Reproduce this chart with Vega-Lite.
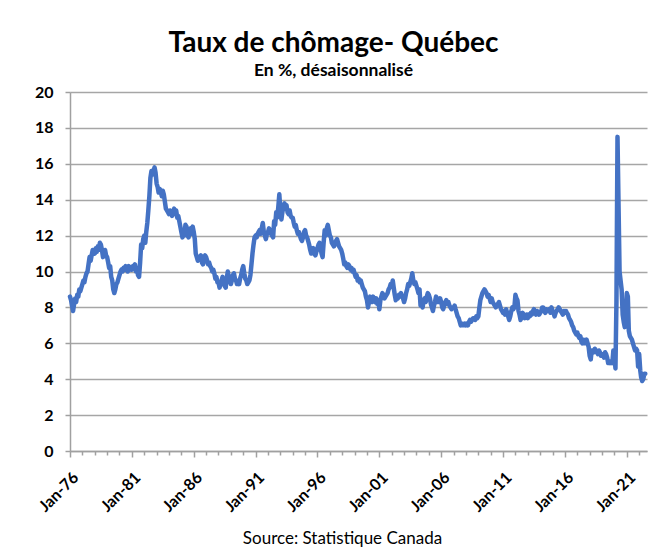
{
"$schema": "https://vega.github.io/schema/vega-lite/v6.json",
"autosize": {"type": "none"},
"padding": {"left": 70, "top": 92, "right": 17, "bottom": 97},
"width": 577,
"height": 359,
"background": "white",
"config": {"view": {"stroke": null}, "font": "Lato"},
"title": {"text": "Taux de chômage- Québec", "subtitle": "En %, désaisonnalisé", "font": "Lato", "fontSize": 28, "fontWeight": "bold", "color": "black", "subtitleFont": "Lato", "subtitleFontSize": 17.5, "subtitleFontWeight": "bold", "subtitleColor": "black", "subtitlePadding": 4, "anchor": "middle", "dx": -25, "offset": 5},
"data": {"format": {"parse": {"d": "date:'%Y-%m'"}}, "values": [
{"d":"1976-01","v":8.6},{"d":"1976-02","v":8.4},{"d":"1976-03","v":8.1},{"d":"1976-04","v":7.8},{"d":"1976-05","v":8.2},{"d":"1976-06","v":8.5},{"d":"1976-07","v":8.3},{"d":"1976-08","v":8.7},{"d":"1976-09","v":8.6},{"d":"1976-10","v":9.0},{"d":"1976-11","v":8.9},{"d":"1976-12","v":9.1},
{"d":"1977-01","v":9.3},{"d":"1977-02","v":9.5},{"d":"1977-03","v":9.4},{"d":"1977-04","v":9.7},{"d":"1977-05","v":9.9},{"d":"1977-06","v":10.0},{"d":"1977-07","v":10.4},{"d":"1977-08","v":10.8},{"d":"1977-09","v":10.6},{"d":"1977-10","v":10.9},{"d":"1977-11","v":11.2},{"d":"1977-12","v":11.1},
{"d":"1978-01","v":11.0},{"d":"1978-02","v":11.3},{"d":"1978-03","v":11.1},{"d":"1978-04","v":11.4},{"d":"1978-05","v":11.2},{"d":"1978-06","v":11.6},{"d":"1978-07","v":11.5},{"d":"1978-08","v":11.2},{"d":"1978-09","v":10.8},{"d":"1978-10","v":11.0},{"d":"1978-11","v":11.2},{"d":"1978-12","v":10.9},
{"d":"1979-01","v":10.8},{"d":"1979-02","v":10.5},{"d":"1979-03","v":10.2},{"d":"1979-04","v":10.3},{"d":"1979-05","v":9.7},{"d":"1979-06","v":9.5},{"d":"1979-07","v":9.0},{"d":"1979-08","v":8.8},{"d":"1979-09","v":9.0},{"d":"1979-10","v":9.3},{"d":"1979-11","v":9.4},{"d":"1979-12","v":9.6},
{"d":"1980-01","v":9.8},{"d":"1980-02","v":10.0},{"d":"1980-03","v":10.1},{"d":"1980-04","v":10.0},{"d":"1980-05","v":10.2},{"d":"1980-06","v":10.1},{"d":"1980-07","v":10.3},{"d":"1980-08","v":10.2},{"d":"1980-09","v":10.0},{"d":"1980-10","v":10.3},{"d":"1980-11","v":10.2},{"d":"1980-12","v":10.1},
{"d":"1981-01","v":10.1},{"d":"1981-02","v":10.3},{"d":"1981-03","v":10.2},{"d":"1981-04","v":10.4},{"d":"1981-05","v":10.0},{"d":"1981-06","v":10.2},{"d":"1981-07","v":9.8},{"d":"1981-08","v":9.7},{"d":"1981-09","v":10.5},{"d":"1981-10","v":11.5},{"d":"1981-11","v":11.3},{"d":"1981-12","v":11.8},
{"d":"1982-01","v":12.0},{"d":"1982-02","v":11.6},{"d":"1982-03","v":12.2},{"d":"1982-04","v":12.7},{"d":"1982-05","v":13.4},{"d":"1982-06","v":14.2},{"d":"1982-07","v":15.2},{"d":"1982-08","v":15.6},{"d":"1982-09","v":15.4},{"d":"1982-10","v":15.6},{"d":"1982-11","v":15.8},{"d":"1982-12","v":15.5},
{"d":"1983-01","v":14.9},{"d":"1983-02","v":14.7},{"d":"1983-03","v":14.4},{"d":"1983-04","v":14.6},{"d":"1983-05","v":14.5},{"d":"1983-06","v":14.2},{"d":"1983-07","v":14.5},{"d":"1983-08","v":14.3},{"d":"1983-09","v":13.9},{"d":"1983-10","v":13.5},{"d":"1983-11","v":13.4},{"d":"1983-12","v":13.3},
{"d":"1984-01","v":13.2},{"d":"1984-02","v":13.4},{"d":"1984-03","v":13.3},{"d":"1984-04","v":13.1},{"d":"1984-05","v":13.3},{"d":"1984-06","v":13.5},{"d":"1984-07","v":13.2},{"d":"1984-08","v":13.4},{"d":"1984-09","v":13.0},{"d":"1984-10","v":13.1},{"d":"1984-11","v":12.8},{"d":"1984-12","v":12.5},
{"d":"1985-01","v":12.2},{"d":"1985-02","v":11.9},{"d":"1985-03","v":12.3},{"d":"1985-04","v":12.0},{"d":"1985-05","v":12.6},{"d":"1985-06","v":12.5},{"d":"1985-07","v":12.0},{"d":"1985-08","v":11.9},{"d":"1985-09","v":12.2},{"d":"1985-10","v":12.4},{"d":"1985-11","v":12.1},{"d":"1985-12","v":12.5},
{"d":"1986-01","v":12.2},{"d":"1986-02","v":11.8},{"d":"1986-03","v":11.0},{"d":"1986-04","v":10.8},{"d":"1986-05","v":10.6},{"d":"1986-06","v":10.8},{"d":"1986-07","v":10.7},{"d":"1986-08","v":10.9},{"d":"1986-09","v":10.5},{"d":"1986-10","v":10.4},{"d":"1986-11","v":10.7},{"d":"1986-12","v":10.9},
{"d":"1987-01","v":10.8},{"d":"1987-02","v":10.6},{"d":"1987-03","v":10.4},{"d":"1987-04","v":10.5},{"d":"1987-05","v":10.3},{"d":"1987-06","v":10.2},{"d":"1987-07","v":10.0},{"d":"1987-08","v":10.1},{"d":"1987-09","v":9.9},{"d":"1987-10","v":9.6},{"d":"1987-11","v":9.7},{"d":"1987-12","v":9.4},
{"d":"1988-01","v":9.4},{"d":"1988-02","v":9.1},{"d":"1988-03","v":9.3},{"d":"1988-04","v":9.5},{"d":"1988-05","v":9.7},{"d":"1988-06","v":9.4},{"d":"1988-07","v":9.2},{"d":"1988-08","v":9.1},{"d":"1988-09","v":9.6},{"d":"1988-10","v":10.0},{"d":"1988-11","v":9.7},{"d":"1988-12","v":9.5},
{"d":"1989-01","v":9.3},{"d":"1989-02","v":9.5},{"d":"1989-03","v":9.8},{"d":"1989-04","v":9.9},{"d":"1989-05","v":9.6},{"d":"1989-06","v":9.5},{"d":"1989-07","v":9.3},{"d":"1989-08","v":9.4},{"d":"1989-09","v":9.3},{"d":"1989-10","v":9.6},{"d":"1989-11","v":9.8},{"d":"1989-12","v":10.1},
{"d":"1990-01","v":10.3},{"d":"1990-02","v":9.9},{"d":"1990-03","v":9.6},{"d":"1990-04","v":9.5},{"d":"1990-05","v":9.3},{"d":"1990-06","v":9.4},{"d":"1990-07","v":9.5},{"d":"1990-08","v":9.8},{"d":"1990-09","v":10.4},{"d":"1990-10","v":11.0},{"d":"1990-11","v":11.5},{"d":"1990-12","v":11.9},
{"d":"1991-01","v":12.0},{"d":"1991-02","v":11.9},{"d":"1991-03","v":12.1},{"d":"1991-04","v":12.2},{"d":"1991-05","v":12.3},{"d":"1991-06","v":12.1},{"d":"1991-07","v":12.4},{"d":"1991-08","v":12.7},{"d":"1991-09","v":12.2},{"d":"1991-10","v":12.0},{"d":"1991-11","v":11.8},{"d":"1991-12","v":12.1},
{"d":"1992-01","v":12.2},{"d":"1992-02","v":12.4},{"d":"1992-03","v":12.3},{"d":"1992-04","v":12.1},{"d":"1992-05","v":12.0},{"d":"1992-06","v":11.9},{"d":"1992-07","v":12.8},{"d":"1992-08","v":12.6},{"d":"1992-09","v":13.3},{"d":"1992-10","v":13.0},{"d":"1992-11","v":13.6},{"d":"1992-12","v":14.3},
{"d":"1993-01","v":13.4},{"d":"1993-02","v":12.9},{"d":"1993-03","v":13.3},{"d":"1993-04","v":13.6},{"d":"1993-05","v":13.8},{"d":"1993-06","v":13.5},{"d":"1993-07","v":13.7},{"d":"1993-08","v":13.3},{"d":"1993-09","v":13.2},{"d":"1993-10","v":13.4},{"d":"1993-11","v":13.1},{"d":"1993-12","v":13.0},
{"d":"1994-01","v":13.0},{"d":"1994-02","v":12.7},{"d":"1994-03","v":12.5},{"d":"1994-04","v":12.6},{"d":"1994-05","v":12.3},{"d":"1994-06","v":12.1},{"d":"1994-07","v":12.2},{"d":"1994-08","v":12.0},{"d":"1994-09","v":11.8},{"d":"1994-10","v":11.7},{"d":"1994-11","v":11.9},{"d":"1994-12","v":12.2},
{"d":"1995-01","v":12.3},{"d":"1995-02","v":12.0},{"d":"1995-03","v":11.9},{"d":"1995-04","v":11.7},{"d":"1995-05","v":11.5},{"d":"1995-06","v":11.2},{"d":"1995-07","v":11.0},{"d":"1995-08","v":11.1},{"d":"1995-09","v":11.3},{"d":"1995-10","v":11.0},{"d":"1995-11","v":10.9},{"d":"1995-12","v":11.1},
{"d":"1996-01","v":11.3},{"d":"1996-02","v":11.5},{"d":"1996-03","v":11.6},{"d":"1996-04","v":11.3},{"d":"1996-05","v":11.0},{"d":"1996-06","v":10.8},{"d":"1996-07","v":11.6},{"d":"1996-08","v":12.3},{"d":"1996-09","v":12.0},{"d":"1996-10","v":12.4},{"d":"1996-11","v":12.6},{"d":"1996-12","v":12.3},
{"d":"1997-01","v":12.0},{"d":"1997-02","v":11.9},{"d":"1997-03","v":11.6},{"d":"1997-04","v":11.5},{"d":"1997-05","v":11.4},{"d":"1997-06","v":11.5},{"d":"1997-07","v":11.7},{"d":"1997-08","v":11.8},{"d":"1997-09","v":11.6},{"d":"1997-10","v":11.4},{"d":"1997-11","v":11.3},{"d":"1997-12","v":11.2},
{"d":"1998-01","v":11.0},{"d":"1998-02","v":10.7},{"d":"1998-03","v":10.4},{"d":"1998-04","v":10.5},{"d":"1998-05","v":10.3},{"d":"1998-06","v":10.2},{"d":"1998-07","v":10.4},{"d":"1998-08","v":10.3},{"d":"1998-09","v":10.1},{"d":"1998-10","v":10.2},{"d":"1998-11","v":10.0},{"d":"1998-12","v":10.1},
{"d":"1999-01","v":9.9},{"d":"1999-02","v":9.7},{"d":"1999-03","v":9.8},{"d":"1999-04","v":9.5},{"d":"1999-05","v":9.6},{"d":"1999-06","v":9.4},{"d":"1999-07","v":9.5},{"d":"1999-08","v":9.3},{"d":"1999-09","v":9.1},{"d":"1999-10","v":9.0},{"d":"1999-11","v":8.9},{"d":"1999-12","v":8.6},
{"d":"2000-01","v":8.4},{"d":"2000-02","v":8.0},{"d":"2000-03","v":8.3},{"d":"2000-04","v":8.6},{"d":"2000-05","v":8.5},{"d":"2000-06","v":8.3},{"d":"2000-07","v":8.6},{"d":"2000-08","v":8.4},{"d":"2000-09","v":8.3},{"d":"2000-10","v":8.5},{"d":"2000-11","v":8.2},{"d":"2000-12","v":8.4},
{"d":"2001-01","v":7.9},{"d":"2001-02","v":8.4},{"d":"2001-03","v":8.6},{"d":"2001-04","v":8.8},{"d":"2001-05","v":8.7},{"d":"2001-06","v":8.5},{"d":"2001-07","v":8.6},{"d":"2001-08","v":8.7},{"d":"2001-09","v":8.8},{"d":"2001-10","v":9.0},{"d":"2001-11","v":9.1},{"d":"2001-12","v":9.3},
{"d":"2002-01","v":9.2},{"d":"2002-02","v":9.5},{"d":"2002-03","v":9.1},{"d":"2002-04","v":8.7},{"d":"2002-05","v":8.4},{"d":"2002-06","v":8.6},{"d":"2002-07","v":8.5},{"d":"2002-08","v":8.7},{"d":"2002-09","v":8.6},{"d":"2002-10","v":8.8},{"d":"2002-11","v":8.6},{"d":"2002-12","v":8.5},
{"d":"2003-01","v":8.3},{"d":"2003-02","v":8.5},{"d":"2003-03","v":8.8},{"d":"2003-04","v":9.0},{"d":"2003-05","v":9.3},{"d":"2003-06","v":9.2},{"d":"2003-07","v":9.4},{"d":"2003-08","v":9.6},{"d":"2003-09","v":9.9},{"d":"2003-10","v":9.5},{"d":"2003-11","v":9.3},{"d":"2003-12","v":9.4},
{"d":"2004-01","v":9.2},{"d":"2004-02","v":9.0},{"d":"2004-03","v":8.8},{"d":"2004-04","v":9.0},{"d":"2004-05","v":8.1},{"d":"2004-06","v":8.4},{"d":"2004-07","v":8.0},{"d":"2004-08","v":8.4},{"d":"2004-09","v":8.5},{"d":"2004-10","v":8.3},{"d":"2004-11","v":8.6},{"d":"2004-12","v":8.8},
{"d":"2005-01","v":8.7},{"d":"2005-02","v":8.5},{"d":"2005-03","v":8.2},{"d":"2005-04","v":8.0},{"d":"2005-05","v":7.8},{"d":"2005-06","v":8.1},{"d":"2005-07","v":8.3},{"d":"2005-08","v":8.6},{"d":"2005-09","v":8.5},{"d":"2005-10","v":8.3},{"d":"2005-11","v":8.4},{"d":"2005-12","v":8.5},
{"d":"2006-01","v":8.3},{"d":"2006-02","v":8.0},{"d":"2006-03","v":7.9},{"d":"2006-04","v":8.1},{"d":"2006-05","v":8.3},{"d":"2006-06","v":8.4},{"d":"2006-07","v":8.2},{"d":"2006-08","v":8.3},{"d":"2006-09","v":8.1},{"d":"2006-10","v":8.0},{"d":"2006-11","v":7.9},{"d":"2006-12","v":8.0},
{"d":"2007-01","v":8.0},{"d":"2007-02","v":8.1},{"d":"2007-03","v":7.9},{"d":"2007-04","v":7.7},{"d":"2007-05","v":7.5},{"d":"2007-06","v":7.4},{"d":"2007-07","v":7.2},{"d":"2007-08","v":7.0},{"d":"2007-09","v":7.1},{"d":"2007-10","v":7.0},{"d":"2007-11","v":7.0},{"d":"2007-12","v":7.1},
{"d":"2008-01","v":7.0},{"d":"2008-02","v":7.1},{"d":"2008-03","v":7.0},{"d":"2008-04","v":7.2},{"d":"2008-05","v":7.3},{"d":"2008-06","v":7.2},{"d":"2008-07","v":7.3},{"d":"2008-08","v":7.4},{"d":"2008-09","v":7.4},{"d":"2008-10","v":7.3},{"d":"2008-11","v":7.5},{"d":"2008-12","v":7.4},
{"d":"2009-01","v":7.5},{"d":"2009-02","v":8.0},{"d":"2009-03","v":8.4},{"d":"2009-04","v":8.6},{"d":"2009-05","v":8.8},{"d":"2009-06","v":8.9},{"d":"2009-07","v":9.0},{"d":"2009-08","v":8.9},{"d":"2009-09","v":8.8},{"d":"2009-10","v":8.6},{"d":"2009-11","v":8.7},{"d":"2009-12","v":8.5},
{"d":"2010-01","v":8.3},{"d":"2010-02","v":8.5},{"d":"2010-03","v":8.3},{"d":"2010-04","v":8.2},{"d":"2010-05","v":8.1},{"d":"2010-06","v":8.0},{"d":"2010-07","v":8.1},{"d":"2010-08","v":8.2},{"d":"2010-09","v":8.3},{"d":"2010-10","v":8.1},{"d":"2010-11","v":7.9},{"d":"2010-12","v":7.8},
{"d":"2011-01","v":7.7},{"d":"2011-02","v":7.8},{"d":"2011-03","v":7.6},{"d":"2011-04","v":7.9},{"d":"2011-05","v":7.7},{"d":"2011-06","v":7.5},{"d":"2011-07","v":7.3},{"d":"2011-08","v":7.5},{"d":"2011-09","v":7.8},{"d":"2011-10","v":8.0},{"d":"2011-11","v":7.9},{"d":"2011-12","v":8.0},
{"d":"2012-01","v":8.7},{"d":"2012-02","v":8.5},{"d":"2012-03","v":8.4},{"d":"2012-04","v":7.8},{"d":"2012-05","v":7.6},{"d":"2012-06","v":7.3},{"d":"2012-07","v":7.5},{"d":"2012-08","v":7.7},{"d":"2012-09","v":7.6},{"d":"2012-10","v":7.4},{"d":"2012-11","v":7.5},{"d":"2012-12","v":7.6},
{"d":"2013-01","v":7.4},{"d":"2013-02","v":7.6},{"d":"2013-03","v":7.5},{"d":"2013-04","v":7.7},{"d":"2013-05","v":7.6},{"d":"2013-06","v":7.8},{"d":"2013-07","v":7.9},{"d":"2013-08","v":7.7},{"d":"2013-09","v":7.6},{"d":"2013-10","v":7.8},{"d":"2013-11","v":7.7},{"d":"2013-12","v":7.6},
{"d":"2014-01","v":7.7},{"d":"2014-02","v":7.8},{"d":"2014-03","v":8.0},{"d":"2014-04","v":8.0},{"d":"2014-05","v":7.8},{"d":"2014-06","v":7.7},{"d":"2014-07","v":7.9},{"d":"2014-08","v":7.8},{"d":"2014-09","v":7.8},{"d":"2014-10","v":7.9},{"d":"2014-11","v":7.7},{"d":"2014-12","v":8.0},
{"d":"2015-01","v":7.8},{"d":"2015-02","v":7.7},{"d":"2015-03","v":7.5},{"d":"2015-04","v":7.7},{"d":"2015-05","v":7.8},{"d":"2015-06","v":7.9},{"d":"2015-07","v":8.0},{"d":"2015-08","v":7.9},{"d":"2015-09","v":7.8},{"d":"2015-10","v":7.7},{"d":"2015-11","v":7.6},{"d":"2015-12","v":7.8},
{"d":"2016-01","v":7.7},{"d":"2016-02","v":7.8},{"d":"2016-03","v":7.7},{"d":"2016-04","v":7.6},{"d":"2016-05","v":7.4},{"d":"2016-06","v":7.3},{"d":"2016-07","v":7.2},{"d":"2016-08","v":7.0},{"d":"2016-09","v":6.9},{"d":"2016-10","v":6.7},{"d":"2016-11","v":6.6},{"d":"2016-12","v":6.5},
{"d":"2017-01","v":6.6},{"d":"2017-02","v":6.4},{"d":"2017-03","v":6.3},{"d":"2017-04","v":6.4},{"d":"2017-05","v":6.1},{"d":"2017-06","v":6.0},{"d":"2017-07","v":6.2},{"d":"2017-08","v":6.0},{"d":"2017-09","v":6.1},{"d":"2017-10","v":6.2},{"d":"2017-11","v":6.0},{"d":"2017-12","v":5.8},
{"d":"2018-01","v":5.3},{"d":"2018-02","v":5.1},{"d":"2018-03","v":5.6},{"d":"2018-04","v":5.6},{"d":"2018-05","v":5.5},{"d":"2018-06","v":5.7},{"d":"2018-07","v":5.6},{"d":"2018-08","v":5.5},{"d":"2018-09","v":5.4},{"d":"2018-10","v":5.6},{"d":"2018-11","v":5.5},{"d":"2018-12","v":5.3},
{"d":"2019-01","v":5.3},{"d":"2019-02","v":5.4},{"d":"2019-03","v":5.2},{"d":"2019-04","v":5.5},{"d":"2019-05","v":5.4},{"d":"2019-06","v":5.2},{"d":"2019-07","v":4.9},{"d":"2019-08","v":5.0},{"d":"2019-09","v":4.9},{"d":"2019-10","v":5.0},{"d":"2019-11","v":4.9},{"d":"2019-12","v":5.6},
{"d":"2020-01","v":5.3},{"d":"2020-02","v":4.6},{"d":"2020-03","v":8.3},{"d":"2020-04","v":17.5},{"d":"2020-05","v":13.8},{"d":"2020-06","v":10.0},{"d":"2020-07","v":9.5},{"d":"2020-08","v":9.0},{"d":"2020-09","v":7.6},{"d":"2020-10","v":7.2},{"d":"2020-11","v":6.9},{"d":"2020-12","v":7.3},
{"d":"2021-01","v":8.8},{"d":"2021-02","v":8.6},{"d":"2021-03","v":6.7},{"d":"2021-04","v":6.4},{"d":"2021-05","v":6.3},{"d":"2021-06","v":6.2},{"d":"2021-07","v":6.0},{"d":"2021-08","v":5.8},{"d":"2021-09","v":5.6},{"d":"2021-10","v":5.7},{"d":"2021-11","v":5.6},{"d":"2021-12","v":4.7},
{"d":"2022-01","v":5.4},{"d":"2022-02","v":4.5},{"d":"2022-03","v":4.1},{"d":"2022-04","v":3.9},{"d":"2022-05","v":4.0},{"d":"2022-06","v":4.3},{"d":"2022-07","v":4.3}
]},
"mark": {"type": "line", "color": "#4472C4", "strokeWidth": 4.5, "strokeJoin": "round", "strokeCap": "round"},
"encoding": {
"x": {"field": "d", "type": "temporal",
 "scale": {"domain": [{"year": 1976, "month": 1, "date": 1}, {"year": 2022, "month": 8, "date": 20}]},
 "axis": {"title": "Source: Statistique Canada", "titleFont": "Lato", "titleFontSize": 17, "titleFontWeight": "normal", "titleColor": "black", "titleX": 272, "titlePadding": 16,
  "tickCount": {"interval": "year", "step": 1},
  "labelExpr": "(year(datum.value) - 1976) % 5 == 0 ? timeFormat(datum.value, '%b-%y') : ''",
  "labelAngle": -45, "labelOverlap": false, "labelFlush": false, "labelFont": "Lato", "labelFontSize": 16, "labelFontWeight": "bold", "labelColor": "black", "labelPadding": 12,
  "grid": false, "domainColor": "#A0A0A0", "domainWidth": 1.5, "tickColor": "#A0A0A0", "tickWidth": 1.5,
  "tickSize": {"condition": {"test": "(year(datum.value) - 1976) % 5 == 0", "value": 6}, "value": 4}}},
"y": {"field": "v", "type": "quantitative",
 "scale": {"domain": [0, 20], "nice": false},
 "axis": {"title": null, "values": [0, 2, 4, 6, 8, 10, 12, 14, 16, 18, 20], "grid": true, "gridColor": "#A6A6A6", "gridWidth": 1.5, "domainColor": "#A0A0A0", "domainWidth": 1.5, "tickColor": "#A0A0A0", "tickWidth": 1.5, "tickSize": 5, "labelPadding": 12, "labelFont": "Lato", "labelFontSize": 16, "labelFontWeight": "bold", "labelColor": "black"}}
}
}
